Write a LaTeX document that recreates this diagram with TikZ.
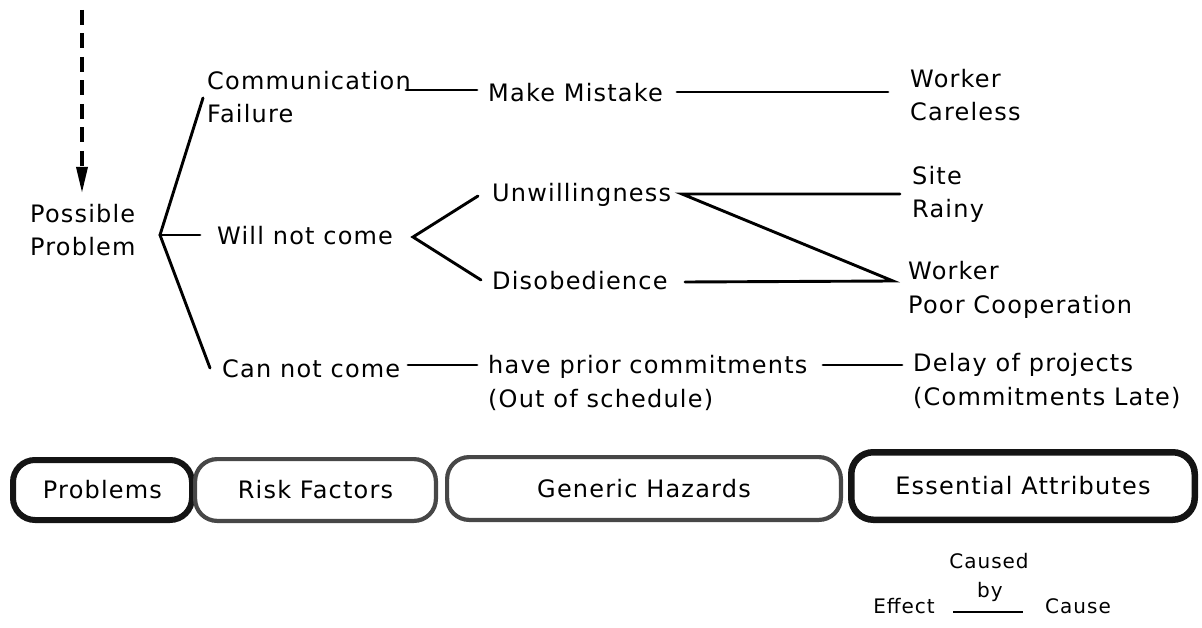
\documentclass[tikz,border=0pt]{standalone}
\usepackage{fontspec}
\setmainfont{DejaVu Sans}[LetterSpace=5]
\usetikzlibrary{arrows.meta}

% multi-line labels are placed by the baseline of their last line
\tikzset{
  lbl/.style={anchor=base west, inner sep=0pt, align=left,
              font=\fontsize{24}{33.5}\selectfont},
  small/.style={inner sep=0pt, font=\fontsize{20}{24}\selectfont},
  link/.style={line width=2.9pt, line cap=round, line join=miter},
  flow/.style={line width=3.4pt, dash pattern=on 15pt off 8.5pt,
               -{Triangle[length=26pt,width=11pt]}},
  boxstrong/.style={draw=black!92, line width=6pt, rounded corners=22pt,
                    inner sep=0pt, font=\fontsize{24}{30}\selectfont},
  boxsoft/.style={draw=black!72, line width=4.2pt, rounded corners=22pt,
                  inner sep=0pt, font=\fontsize{24}{30}\selectfont},
}

\begin{document}
\begin{tikzpicture}[x=1pt,y=-1pt]
\useasboundingbox (0,0) rectangle (1202,628);

% ---- incoming flow ----
\coordinate (flowtop) at (82,10);
\node[lbl] (pp) at (30,256) {Possible\\Problem};
\coordinate (ppin) at (82,193);
\draw[flow] (flowtop) -- (ppin);

% ---- problems ----
\coordinate (fork) at (160,235);
\node[lbl] (cf)  at (207,123) {Communication\\Failure};
\node[lbl] (wnc) at (217,245) {Will not come};
\node[lbl] (cnc) at (222,377) {Can not come};
\coordinate (cfin)  at (203,98);
\coordinate (wncin) at (200,235);
\coordinate (cncin) at (210,368);
\draw[link] (cfin) -- (fork) -- (cncin);
\draw[link] (fork) -- (wncin);

% ---- risk factors ----
\node[lbl] (mm) at (488,102) {Make Mistake};
\node[lbl] (uw) at (492,202) {Unwillingness};
\node[lbl] (db) at (492,290) {Disobedience};
\node[lbl] (hp) at (488,407) {have prior commitments\\(Out of schedule)};

\coordinate (cfout) at (406,90);
\coordinate (mmin)  at (477,90);
\draw[link] (cfout) -- (mmin);

\coordinate (wncout) at (413,237);
\coordinate (uwin)   at (478,196);
\coordinate (dbin)   at (481,280);
\draw[link] (uwin) -- (wncout) -- (dbin);

\coordinate (cncout) at (408,365);
\coordinate (hpin)   at (477,365);
\draw[link] (cncout) -- (hpin);

% ---- essential attributes ----
\node[lbl] (wc) at (910,121) {Worker\\Careless};
\node[lbl] (sr) at (912,218) {Site\\Rainy};
\node[lbl] (wp) at (908,313) {Worker\\Poor Cooperation};
\node[lbl] (dp) at (913,405) {Delay of projects\\(Commitments Late)};

\coordinate (mmout) at (677,92);
\coordinate (wcin)  at (888,92);
\draw[link] (mmout) -- (wcin);

\coordinate (uwout) at (682,194);
\coordinate (srin)  at (900,194);
\coordinate (wpin)  at (893,281);
\coordinate (dbout) at (685,282);
\draw[link] (srin) -- (uwout) -- (wpin) -- (dbout);

\coordinate (hpout) at (823,365);
\coordinate (dpin)  at (902,365);
\draw[link] (hpout) -- (dpin);

% ---- column headings ----
\node[boxstrong, minimum width=179pt, minimum height=60pt] (hprob) at (102.5,490) {Problems};
\node[boxsoft,   minimum width=240.8pt, minimum height=61.8pt] (hrisk) at (315.5,490) {Risk Factors};
\node[boxsoft,   minimum width=393.8pt, minimum height=62.8pt] (hhaz)  at (644,488.5) {Generic Hazards};
\node[boxstrong, line width=6.5pt, minimum width=343.5pt, minimum height=67.5pt] (hattr) at (1023,486) {Essential Attributes};

% ---- legend ----
\node[small, anchor=base] (lgcaused) at (989,568) {Caused};
\node[small, anchor=base] (lgby)     at (990,597) {by};
\node[small, anchor=base east] (lgeffect) at (935,613) {Effect};
\node[small, anchor=base west] (lgcause)  at (1045,613) {Cause};
\coordinate (lgl) at (953,612);
\coordinate (lgr) at (1023,612);
\draw[line width=2.2pt] (lgl) -- (lgr);
\end{tikzpicture}
\end{document}
